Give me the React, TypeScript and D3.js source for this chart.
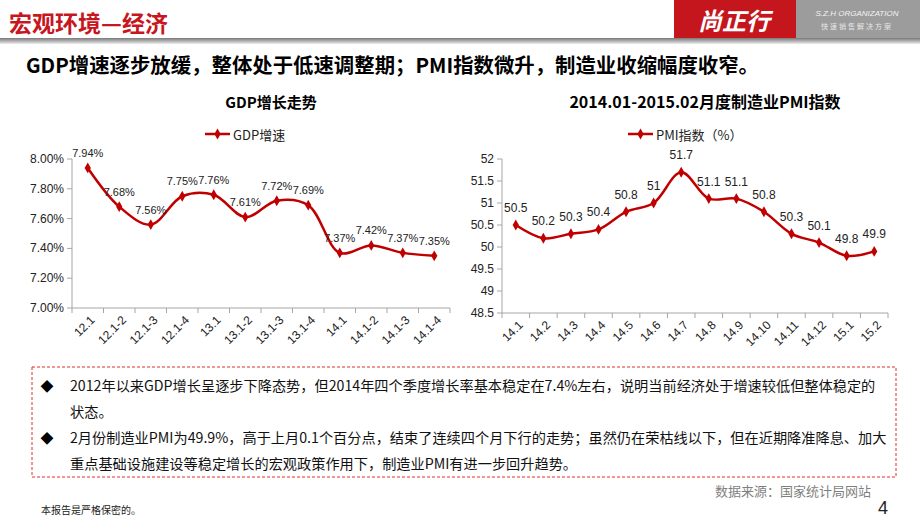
import React from 'react';
import * as d3 from 'd3';

const gdpCategories = ['12.1', '12.1-2', '12.1-3', '12.1-4', '13.1', '13.1-2', '13.1-3', '13.1-4', '14.1', '14.1-2', '14.1-3', '14.1-4'];
const gdpValues = [7.94, 7.68, 7.56, 7.75, 7.76, 7.61, 7.72, 7.69, 7.37, 7.42, 7.37, 7.35];
const gdpTicks = [7.0, 7.2, 7.4, 7.6, 7.8, 8.0];

const pmiCategories = ['14.1', '14.2', '14.3', '14.4', '14.5', '14.6', '14.7', '14.8', '14.9', '14.10', '14.11', '14.12', '15.1', '15.2'];
const pmiValues = [50.5, 50.2, 50.3, 50.4, 50.8, 51, 51.7, 51.1, 51.1, 50.8, 50.3, 50.1, 49.8, 49.9];
const pmiTicks = [48.5, 49, 49.5, 50, 50.5, 51, 51.5, 52];

const bodyLines = [
  '2012年以来GDP增长呈逐步下降态势，但2014年四个季度增长率基本稳定在7.4%左右，说明当前经济处于增速较低但整体稳定的',
  '状态。',
  '2月份制造业PMI为49.9%，高于上月0.1个百分点，结束了连续四个月下行的走势；虽然仍在荣枯线以下，但在近期降准降息、加大',
  '重点基础设施建设等稳定增长的宏观政策作用下，制造业PMI有进一步回升趋势。',
];

const RED = '#c00000';
const AXIS = '#a6a6a6';
const CJK = "'Noto Sans CJK SC', sans-serif";
const NUM = "'Liberation Sans', 'Noto Sans CJK SC', sans-serif";

type ChartProps = {
  title: string;
  titleSize: number;
  legend: string;
  legendX: number;
  left: number;
  right: number;
  top: number;
  bottom: number;
  categories: string[];
  values: number[];
  ticks: number[];
  tickFmt: (v: number) => string;
  labelFmt: (v: number) => string;
  labelGap: number;
  labelSize: number;
  tickSize: number;
};

function LineChart(p: ChartProps) {
  const x = d3.scaleBand<string>().domain(p.categories).range([p.left, p.right]).padding(0);
  const y = d3.scaleLinear().domain([p.ticks[0], p.ticks[p.ticks.length - 1]]).range([p.bottom, p.top]);
  const cx = (c: string) => (x(c) as number) + x.bandwidth() / 2;
  const pts: [number, number][] = p.values.map((v, i) => [cx(p.categories[i]), y(v)]);
  const line = d3.line().curve(d3.curveCatmullRom.alpha(0.5));
  const diamond = d3.symbol().type(d3.symbolDiamond).size(34)() as string;
  const titleX = (p.left + p.right) / 2 + 10;
  const boundaries = p.categories.map((c) => x(c) as number).concat([p.right]);
  return (
    <g>
      <text x={titleX} y={101} textAnchor="middle" dominantBaseline="central" fontFamily={CJK} fontWeight="bold" fontSize={p.titleSize} fill="#000">
        {p.title}
      </text>
      <line x1={p.legendX} x2={p.legendX + 25} y1={134} y2={134} stroke={RED} strokeWidth={2.5} />
      <path d={diamond} transform={`translate(${p.legendX + 12.5},134)`} fill={RED} />
      <text x={p.legendX + 28} y={134} dominantBaseline="central" fontFamily={CJK} fontSize={13} fill="#222">
        {p.legend}
      </text>
      <line x1={p.left} x2={p.left} y1={p.top} y2={p.bottom} stroke={AXIS} strokeWidth={1} />
      {p.ticks.map((t) => (
        <g key={t}>
          <line x1={p.left - 5} x2={p.left} y1={y(t)} y2={y(t)} stroke={AXIS} />
          <text x={p.left - 8} y={y(t)} textAnchor="end" dominantBaseline="central" fontFamily={NUM} fontSize={p.tickSize} fill="#222">
            {p.tickFmt(t)}
          </text>
        </g>
      ))}
      <line x1={p.left} x2={p.right} y1={p.bottom} y2={p.bottom} stroke={AXIS} strokeWidth={1} />
      {boundaries.map((b, i) => (
        <line key={i} x1={b} x2={b} y1={p.bottom} y2={p.bottom + 5} stroke={AXIS} />
      ))}
      {p.categories.map((c) => (
        <text key={c} transform={`translate(${cx(c) + 5},${p.bottom + 10}) rotate(-45)`} textAnchor="end" dominantBaseline="central" fontFamily={NUM} fontSize={12} fill="#222">
          {c}
        </text>
      ))}
      <path d={line(pts) as string} fill="none" stroke={RED} strokeWidth={2.5} />
      {pts.map((pt, i) => (
        <path key={i} d={diamond} transform={`translate(${pt[0]},${pt[1]})`} fill={RED} />
      ))}
      {pts.map((pt, i) => (
        <text key={'l' + i} x={pt[0]} y={pt[1] - p.labelGap} textAnchor="middle" dominantBaseline="central" fontFamily={NUM} fontSize={p.labelSize} fill="#222">
          {p.labelFmt(p.values[i])}
        </text>
      ))}
    </g>
  );
}

export default function App() {
  return (
    <div style={{ position: 'absolute', left: 0, top: 0, width: 920, height: 518, background: '#fff' }}>
      <svg width={920} height={518} viewBox="0 0 920 518" style={{ display: 'block' }}>
        <defs>
          <linearGradient id="band" x1="0" y1="0" x2="0" y2="1">
            <stop offset="0" stopColor="#7a7a7a" />
            <stop offset="0.5" stopColor="#b0b0b0" />
            <stop offset="1" stopColor="#eeeeee" />
          </linearGradient>
        </defs>
        <rect x={0} y={0} width={920} height={518} fill="#fff" />
        <text x={9} y={22} dominantBaseline="central" fontFamily={CJK} fontWeight="bold" fontSize={23} fill="#c8161e">
          宏观环境—经济
        </text>
        <rect x={674} y={0} width={122} height={39} fill="#c4161c" />
        <rect x={796} y={0} width={124} height={39} fill="#9c9c9c" />
        <text x={734} y={19} textAnchor="middle" dominantBaseline="central" fontFamily={CJK} fontWeight="bold" fontStyle="italic" fontSize={24} fill="#fff">
          尚正行
        </text>
        <text x={857} y={13} textAnchor="middle" dominantBaseline="central" fontFamily={NUM} fontStyle="italic" fontSize={8} fill="#f2f2f2">
          S.Z.H ORGANIZATION
        </text>
        <text x={857} y={26} textAnchor="middle" dominantBaseline="central" fontFamily={CJK} fontSize={7} letterSpacing={2} fill="#e6e6e6">
          快速销售解决方案
        </text>
        <rect x={0} y={38} width={920} height={6} fill="url(#band)" />
        <text x={26} y={64} dominantBaseline="central" fontFamily={CJK} fontWeight="bold" fontSize={20.4} fill="#000">
          GDP增速逐步放缓，整体处于低速调整期；PMI指数微升，制造业收缩幅度收窄。
        </text>

        <LineChart
          title="GDP增长走势"
          titleSize={15}
          legend="GDP增速"
          legendX={205}
          left={72}
          right={450}
          top={159}
          bottom={308}
          categories={gdpCategories}
          values={gdpValues}
          ticks={gdpTicks}
          tickFmt={(v) => v.toFixed(2) + '%'}
          labelFmt={(v) => v.toFixed(2) + '%'}
          labelGap={15}
          labelSize={11}
          tickSize={12}
        />
        <LineChart
          title="2014.01-2015.02月度制造业PMI指数"
          titleSize={16}
          legend="PMI指数（%）"
          legendX={628}
          left={502}
          right={888}
          top={159}
          bottom={313}
          categories={pmiCategories}
          values={pmiValues}
          ticks={pmiTicks}
          tickFmt={(v) => String(v)}
          labelFmt={(v) => String(v)}
          labelGap={17}
          labelSize={12}
          tickSize={12}
        />

        <rect x={32} y={367} width={864} height={110} fill="none" stroke="#e0302a" strokeWidth={1} strokeDasharray="3,2" />
        {bodyLines.map((t, i) => {
          const ys = [385, 411, 437, 463];
          return (
            <g key={i}>
              {i % 2 === 0 && (
                <text x={47} y={ys[i]} textAnchor="middle" dominantBaseline="central" fontFamily={CJK} fontSize={13} fill="#000">
                  ◆
                </text>
              )}
              <text x={70} y={ys[i]} dominantBaseline="central" fontFamily={CJK} fontSize={14.2} fill="#111">
                {t}
              </text>
            </g>
          );
        })}
        <text x={871} y={490} textAnchor="end" dominantBaseline="central" fontFamily={CJK} fontSize={13} fill="#7f7f7f">
          数据来源：国家统计局网站
        </text>
        <text x={41} y={509} dominantBaseline="central" fontFamily={CJK} fontSize={10} fill="#222">
          本报告是严格保密的。
        </text>
        <text x={888} y={508} textAnchor="end" dominantBaseline="central" fontFamily={NUM} fontSize={18} fill="#222">
          4
        </text>
      </svg>
    </div>
  );
}
